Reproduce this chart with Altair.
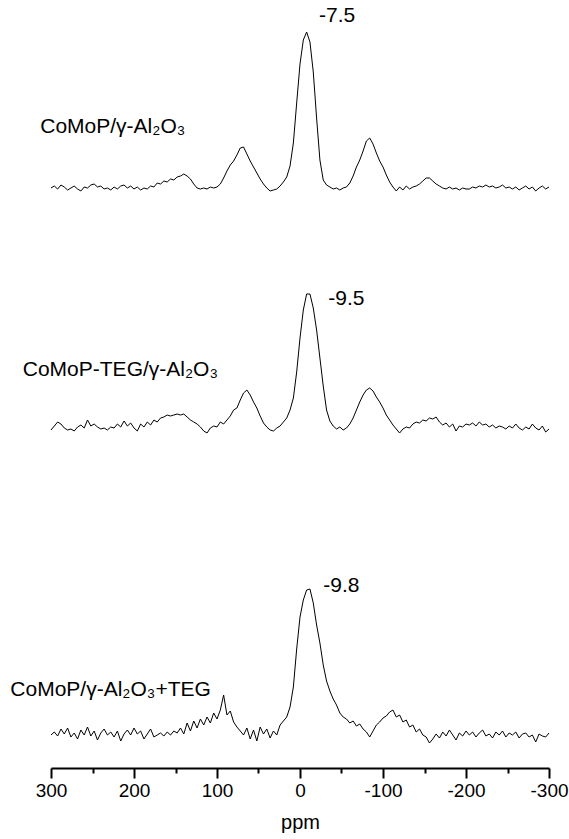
import altair as alt
import pandas as pd

# chemical shift grid (ppm), sampled every 4 ppm from 300 to -300
ppm = list(range(300, -301, -4))

# intensities above each trace's own baseline (arbitrary units)
top = [0, 2, -1, 3, 1, -2, 0, 2, -1, -3, 1, 0, 3, 4, 1, 2, -1, 0, -2, 1,
       -1, 2, 3, 0, 2, -1, 1, -2, 0, -1, 2, 1, 5, 4, 7, 6, 9, 8, 11, 12,
       14, 12, 9, 4, 0, -1, 0, -1, 1, 0, 1, 4, 10, 17, 23, 27, 33, 40, 41, 34,
       27, 21, 15, 9, 4, 0, -3, -2, -1, 2, 6, 11, 22, 45, 85, 124, 148, 156, 146, 116,
       70, 28, 8, 3, 1, -1, 0, -2, 0, 1, 5, 12, 21, 28, 37, 47, 50, 44, 35, 27,
       21, 13, 6, 1, -3, 1, -2, 2, -1, 1, 2, 4, 7, 10, 10, 7, 4, 2, 0, -1,
       1, -1, 0, -2, 0, -1, -1, 1, 0, 2, 1, 3, 1, 2, 0, 1, 3, 0, 1, -1,
       1, -2, 0, 2, -1, 1, -3, 0, 2, -1, 1]

mid = [0, 4, 8, 6, 2, 0, 1, -1, 3, 5, 2, 10, 4, 6, 3, 1, 2, 0, 3, 2,
       6, 3, 9, 4, 7, 2, -1, 6, 3, 8, 5, 10, 8, 12, 13, 15, 14, 15, 16, 15,
       16, 13, 10, 8, 6, 3, -1, -3, 2, 4, 3, 8, 6, 10, 14, 20, 22, 30, 37, 40,
       35, 28, 22, 14, 7, 3, 0, -1, 2, 4, 8, 12, 20, 32, 58, 92, 120, 136, 136, 122,
       100, 72, 44, 20, 9, 4, 1, 3, 0, 2, 6, 12, 20, 28, 35, 40, 42, 39, 33, 28,
       22, 15, 10, 5, 1, -3, 1, 3, 2, 6, 8, 7, 10, 9, 12, 11, 13, 8, 5, 7,
       3, 6, -1, 4, 3, 6, 5, 7, 4, 8, 5, 6, 3, 5, 2, 4, 3, 1, 4, 2,
       6, 2, 0, 3, 1, 6, 2, 0, 4, -2, 1]

bot = [2, 5, 1, 8, 3, 9, 0, 4, -2, 7, 2, 10, 1, 6, -3, 4, 8, 2, 5, 0,
       6, -4, 3, 7, 2, 9, 3, 6, -2, 3, 8, 0, 2, 4, 1, 5, 2, 6, 4, 9,
       3, 14, 6, 16, 9, 18, 12, 20, 14, 24, 18, 27, 42, 22, 26, 15, 10, 6, 2, 9,
       -2, 7, -4, 10, 3, 8, -1, 6, 2, 12, 16, 20, 30, 50, 88, 120, 137, 147, 148, 134,
       112, 94, 72, 56, 46, 38, 32, 24, 20, 18, 14, 16, 11, 13, 8, 5, 0, 6, 12, 15,
       19, 21, 25, 27, 20, 22, 15, 17, 10, 12, 5, 8, 2, 0, -6, -2, 3, -1, 5, 1,
       7, 2, -3, 4, 1, 6, 2, 5, 0, 4, 7, 1, 3, -1, 5, 2, 6, 0, 4, 2,
       5, -1, 3, 4, 0, 2, -5, 3, 1, 0, 4]

series_names = ["CoMoP/γ-Al₂O₃", "CoMoP-TEG/γ-Al₂O₃", "CoMoP/γ-Al₂O₃+TEG"]
series_offsets = [580, 338, 31]          # vertical stacking offsets
peak_labels = ["-7.5", "-9.5", "-9.8"]

# label anchors (data space)
name_ppm = [313, 334, 349]
name_y = [635, 392, 72]
peak_ppm = [-23, -34, -28]
peak_y = [746, 463, 176]

rows = []
for name, vals, off in zip(series_names, [top, mid, bot], series_offsets):
    for p, v in zip(ppm, vals):
        rows.append({"ppm": p, "y": v + off, "series": name})
df = pd.DataFrame(rows)

names_df = pd.DataFrame({"text": series_names, "ppm": name_ppm, "y": name_y})
peaks_df = pd.DataFrame({"text": peak_labels, "ppm": peak_ppm, "y": peak_y})

FONT = "Liberation Sans"

xscale = alt.Scale(domain=[-300, 300], reverse=True, nice=False, zero=False)
yscale = alt.Scale(domain=[0, 768], nice=False, zero=False)

xaxis = alt.Axis(
    values=list(range(-300, 301, 50)),
    labelExpr="datum.value % 100 === 0 ? '' + datum.value : ''",
    tickSize={"condition": {"test": "datum.value % 100 === 0", "value": 10}, "value": 5},
    tickWidth=2, tickColor="black",
    domainWidth=2, domainColor="black",
    labelFont=FONT, labelFontSize=19, labelColor="black", labelPadding=3,
    labelOverlap=False, labelFlush=False,
    title="ppm", titleFont=FONT, titleFontSize=20, titleFontWeight="normal",
    titleColor="black", titlePadding=12, grid=False,
)

lines = alt.Chart(df).mark_line(color="black", strokeWidth=1).encode(
    x=alt.X("ppm:Q", scale=xscale, axis=xaxis),
    y=alt.Y("y:Q", scale=yscale, axis=None),
    detail="series:N",
)

names = alt.Chart(names_df).mark_text(
    align="left", baseline="alphabetic", font=FONT, fontSize=21, color="black"
).encode(x=alt.X("ppm:Q", scale=xscale), y=alt.Y("y:Q", scale=yscale), text="text:N")

peaks = alt.Chart(peaks_df).mark_text(
    align="left", baseline="alphabetic", font=FONT, fontSize=21, color="black"
).encode(x=alt.X("ppm:Q", scale=xscale), y=alt.Y("y:Q", scale=yscale), text="text:N")

chart = alt.layer(lines, names, peaks).properties(
    width=498, height=768,
    autosize=alt.AutoSizeParams(type="none"),
    padding={"left": 51, "top": 0, "right": 20, "bottom": 71},
    background="white",
).configure_view(stroke=None)

chart.save("out.html", embed_options={"renderer": "svg", "actions": False})
